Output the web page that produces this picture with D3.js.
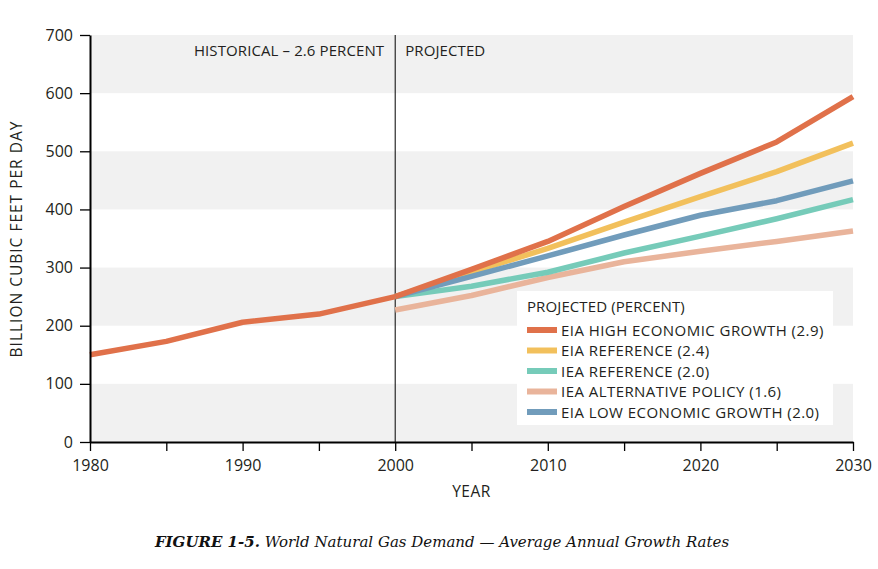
<!DOCTYPE html>
<html><head><meta charset="utf-8">
<script src="https://cdn.jsdelivr.net/npm/d3@7"></script>
<style>body{margin:0;background:#fff;}svg{display:block;}</style>
</head><body>
<script>
const histYears = [1980, 1985, 1990, 1995, 2000];
const histValues = [150, 173, 206, 220, 250];
const projYears = [2000, 2005, 2010, 2015, 2020, 2025, 2030];
const ieaAlt = [227, 252, 283, 310, 328, 345, 363];
const ieaRef = [250, 268, 292, 325, 354, 384, 417];
const eiaRef = [250, 292, 333, 378, 422, 465, 514];
const eiaLow = [250, 285, 320, 356, 390, 415, 449];
const eiaHigh = [250, 297, 345, 405, 462, 516, 594];
const legendOrder = ["EIA HIGH ECONOMIC GROWTH (2.9)", "EIA REFERENCE (2.4)", "IEA REFERENCE (2.0)", "IEA ALTERNATIVE POLICY (1.6)", "EIA LOW ECONOMIC GROWTH (2.0)"];
const xTickYears = [1980, 1985, 1990, 1995, 2000, 2005, 2010, 2015, 2020, 2025, 2030];
const xLabelYears = [1980, 1990, 2000, 2010, 2020, 2030];
const yTicks = [0, 100, 200, 300, 400, 500, 600, 700];

const colors = {
  "EIA HIGH ECONOMIC GROWTH (2.9)": "#e0714a",
  "EIA REFERENCE (2.4)": "#f2c05c",
  "IEA REFERENCE (2.0)": "#76cbb9",
  "IEA ALTERNATIVE POLICY (1.6)": "#e9b49b",
  "EIA LOW ECONOMIC GROWTH (2.0)": "#719cbb"
};
const seriesData = {
  "IEA ALTERNATIVE POLICY (1.6)": ieaAlt,
  "IEA REFERENCE (2.0)": ieaRef,
  "EIA REFERENCE (2.4)": eiaRef,
  "EIA LOW ECONOMIC GROWTH (2.0)": eiaLow,
  "EIA HIGH ECONOMIC GROWTH (2.9)": eiaHigh
};

const W = 878, H = 569;
const m = {left: 90, right: 25, top: 35, bottom: 127};
const svg = d3.select("body").append("svg").attr("width", W).attr("height", H);
const font = "'Open Sans', 'Noto Sans', sans-serif";
const ink = "#231f20";

const x = d3.scaleLinear().domain([1980, 2030]).range([m.left, W - m.right]);
const y = d3.scaleLinear().domain([0, 700]).range([H - m.bottom, m.top]);

// bands
const bands = [[0,100],[200,300],[400,500],[600,700]];
svg.append("g").selectAll("rect").data(bands).join("rect")
  .attr("x", x(1980)).attr("width", x(2030) - x(1980))
  .attr("y", d => y(d[1])).attr("height", d => y(d[0]) - y(d[1]))
  .attr("fill", "#f1f1f1");

// divider
svg.append("line").attr("x1", x(2000)).attr("x2", x(2000))
  .attr("y1", y(700)).attr("y2", y(0)).attr("stroke", "#000").attr("stroke-width", 1);

svg.append("text").attr("x", x(2000) - 11).attr("y", 56).attr("text-anchor", "end")
  .attr("font-family", font).attr("font-size", 15).attr("letter-spacing", 0.1).attr("fill", ink).text("HISTORICAL – 2.6 PERCENT");
svg.append("text").attr("x", x(2000) + 10).attr("y", 56)
  .attr("font-family", font).attr("font-size", 15).attr("letter-spacing", 0.1).attr("fill", ink).text("PROJECTED");

const line = d3.line().x(d => x(d[0])).y(d => y(d[1]));

// projections
const drawOrder = ["IEA ALTERNATIVE POLICY (1.6)", "IEA REFERENCE (2.0)", "EIA REFERENCE (2.4)", "EIA LOW ECONOMIC GROWTH (2.0)", "EIA HIGH ECONOMIC GROWTH (2.9)"];
svg.append("g").selectAll("path").data(drawOrder).join("path")
  .attr("d", n => line(projYears.map((yr, i) => [yr, seriesData[n][i]])))
  .attr("fill", "none").attr("stroke", n => colors[n]).attr("stroke-width", 5.5)
  .attr("stroke-linejoin", "round");

// historical
svg.append("path").attr("d", line(histYears.map((yr, i) => [yr, histValues[i]])))
  .attr("fill", "none").attr("stroke", colors["EIA HIGH ECONOMIC GROWTH (2.9)"]).attr("stroke-width", 5.5)
  .attr("stroke-linejoin", "round");

// axes
const xAxis = svg.append("g").attr("transform", `translate(0,${y(0)})`)
  .call(d3.axisBottom(x).tickValues(xTickYears)
    .tickFormat(d => xLabelYears.includes(d) ? d3.format("d")(d) : "")
    .tickSize(9).tickPadding(9).tickSizeOuter(0));
const yAxis = svg.append("g").attr("transform", `translate(${x(1980)},0)`)
  .call(d3.axisLeft(y).tickValues(yTicks).tickSize(10).tickPadding(7).tickSizeOuter(0));
[xAxis, yAxis].forEach(a => {
  a.select(".domain").attr("stroke", "#000").attr("stroke-width", 2);
  a.selectAll(".tick line").attr("stroke", "#000").attr("stroke-width", 1.3);
  a.selectAll("text").attr("font-family", font).attr("font-size", 16).attr("fill", ink);
});

svg.append("text").attr("x", x(2005)).attr("y", 497).attr("text-anchor", "middle")
  .attr("font-family", font).attr("font-size", 15.5).attr("letter-spacing", 0.5).attr("fill", ink).text("YEAR");
svg.append("text").attr("transform", `translate(22,239) rotate(-90)`).attr("text-anchor", "middle")
  .attr("font-family", font).attr("font-size", 15.5).attr("letter-spacing", 1.0).attr("fill", ink).text("BILLION CUBIC FEET PER DAY");

// legend
const lg = svg.append("g").attr("transform", "translate(517,291)");
lg.append("rect").attr("width", 316).attr("height", 134).attr("fill", "#fff");
lg.append("text").attr("x", 10).attr("y", 21).attr("font-family", font).attr("font-size", 15)
  .attr("letter-spacing", 0.1).attr("fill", ink).text("PROJECTED (PERCENT)");
const items = lg.selectAll("g.item").data(legendOrder).join("g").attr("class", "item")
  .attr("transform", (d, i) => `translate(0,${39 + i * 20.5})`);
items.append("line").attr("x1", 10).attr("x2", 40).attr("stroke", d => colors[d]).attr("stroke-width", 6);
items.append("text").attr("x", 44).attr("y", 5.5).attr("font-family", font).attr("font-size", 15)
  .attr("letter-spacing", 0.45).attr("fill", ink).text(d => d);

// caption
const cap = svg.append("text").attr("x", 442).attr("y", 547).attr("text-anchor", "middle")
  .attr("font-family", "'DejaVu Serif', 'Liberation Serif', serif").attr("font-size", 15).attr("font-style", "italic").attr("fill", "#111");
cap.append("tspan").attr("font-weight", "bold").text("FIGURE 1-5.");
cap.append("tspan").text(" World Natural Gas Demand — Average Annual Growth Rates");
</script>
</body></html>
